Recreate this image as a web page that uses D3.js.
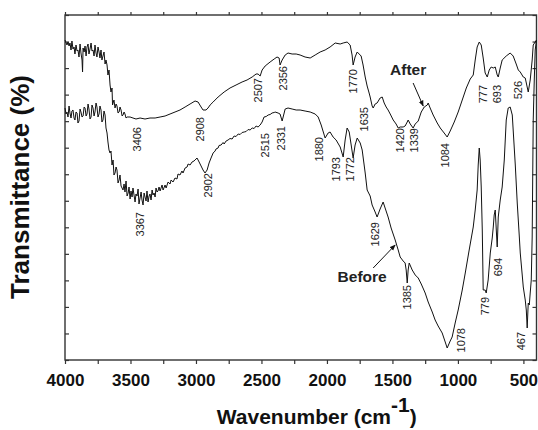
<!DOCTYPE html>
<html><head><meta charset="utf-8">
<script src="https://cdn.jsdelivr.net/npm/d3@7"></script>
<style>
body{margin:0;background:#fff;}
svg{display:block;font-family:Arial,"Liberation Sans",Helvetica,sans-serif;}
</style>
</head><body>
<svg id="chart" width="538" height="430"></svg>
<script>
// ---- data: [wavenumber (cm-1), transmittance (arb. %)] ----
const afterSpectrum = [
[4000,64.0],[3985,63.0],[3977,63.6],[3969,62.8],[3962,63.4],[3954,62.0],[3947,63.8],[3939,62.2],[3931,62.6],[3924,61.2],
[3916,63.0],[3908,61.8],[3901,62.0],[3893,60.6],[3885,63.2],[3878,61.4],[3870,60.0],[3866,57.6],[3862,62.4],[3854,61.6],
[3847,62.8],[3839,60.8],[3832,62.6],[3824,63.2],[3817,61.2],[3809,62.2],[3801,63.4],[3794,61.8],[3786,62.0],[3778,60.8],
[3771,63.0],[3763,61.4],[3756,60.6],[3748,62.6],[3740,61.6],[3733,60.4],[3725,62.0],[3718,60.0],[3710,60.8],[3702,61.6],
[3694,59.2],[3687,60.0],[3679,59.0],[3672,57.0],[3664,58.0],[3656,55.0],[3649,53.6],[3641,54.4],[3637,51.0],
[3633,51.4],[3626,52.0],[3618,50.4],[3610,51.2],[3603,50.8],[3595,49.4],[3587,49.6],[3580,50.6],[3572,50.0],[3564,48.8],[3557,49.0],
[3549,49.6],[3542,49.2],[3534,48.4],[3526,48.6],[3503,48.6],
[3481,48.4],[3458,48.2],[3427,48.4],[3389,48.2],[3351,48.4],[3312,48.4],[3274,48.6],[3236,48.8],[3198,49.2],[3160,49.6],
[3122,50.0],[3083,50.6],[3045,51.2],[3007,51.8],[2984,51.6],[2961,50.6],[2946,50.0],[2923,50.0],[2908,50.4],[2892,51.0],
[2869,51.6],[2831,52.6],[2785,53.6],[2740,54.4],[2694,55.0],[2648,55.6],[2610,56.0],[2571,56.6],[2541,57.2],[2526,57.2],
[2510,56.8],[2495,58.0],[2472,58.8],[2434,59.6],[2403,60.2],[2381,60.6],[2365,60.4],[2358,59.0],[2342,60.0],[2319,61.0],
[2297,61.4],[2266,61.2],[2235,61.2],[2205,61.0],[2167,60.6],[2128,60.4],[2090,61.0],[2052,61.6],[2014,62.0],[1976,62.6],
[1937,63.4],[1899,63.2],[1876,63.4],[1846,63.6],[1823,63.0],[1808,61.0],[1800,59.0],[1785,60.6],[1769,61.6],[1754,61.2],
[1739,60.8],[1724,59.0],[1708,56.6],[1693,54.8],[1678,53.4],[1670,52.6],[1655,50.8],[1647,50.4],[1632,51.2],[1617,51.4],
[1594,52.4],[1578,52.6],[1563,51.4],[1548,50.6],[1533,50.0],[1517,49.2],[1494,48.0],[1472,47.2],[1456,46.4],[1441,46.6],
[1418,46.6],[1403,46.8],[1387,47.6],[1380,48.0],[1364,47.2],[1342,46.4],[1326,47.2],[1303,47.8],[1280,49.6],[1257,50.6],
[1234,51.0],[1227,51.4],[1212,50.4],[1189,49.0],[1158,47.4],[1135,46.4],[1105,45.4],[1082,44.6],[1059,45.8],[1028,47.6],
[998,49.6],[967,52.0],[936,54.4],[906,56.2],[883,57.0],[868,60.0],[853,62.6],[837,63.6],[822,63.0],[807,60.4],
[792,57.4],[776,56.6],[761,58.0],[746,58.6],[730,58.4],[715,58.6],[700,57.0],[692,56.6],[677,58.4],[662,60.0],
[631,60.8],[601,61.4],[578,60.8],[555,59.2],[539,58.0],[524,57.6],[501,56.6],[486,56.4],[463,53.6],[448,56.0],
[433,60.0],[425,63.0],[410,63.6],[400,64.0]
];
const beforeSpectrum = [
[4000,50.4],[3992,49.2],[3985,49.6],[3977,48.6],[3969,50.8],[3962,49.4],[3954,48.4],[3947,49.8],[3939,50.0],[3931,48.4],
[3924,48.0],[3916,49.6],[3908,49.4],[3901,47.4],[3893,47.8],[3885,50.2],[3878,49.6],[3870,48.6],[3862,48.8],[3854,50.6],
[3847,50.4],[3839,48.8],[3832,49.2],[3824,51.2],[3817,50.2],[3809,48.2],[3801,48.6],[3794,51.0],[3786,50.4],[3778,48.8],
[3771,49.6],[3763,51.4],[3756,50.6],[3748,48.6],[3740,49.2],[3733,50.8],[3725,50.0],[3718,47.6],[3710,48.0],[3702,49.8],
[3694,49.0],[3687,46.4],[3679,45.4],[3672,43.6],[3664,42.0],[3656,41.4],[3649,41.8],[3641,39.0],[3633,40.0],[3626,37.0],[3618,37.4],
[3610,38.6],[3603,38.0],[3595,35.4],[3587,36.0],[3580,37.0],[3572,34.8],
[3557,34.0],[3549,35.2],[3542,33.6],[3534,35.8],[3526,32.8],[3518,33.4],[3511,34.6],[3503,32.2],[3496,33.8],[3488,32.6],
[3481,34.4],[3473,33.0],[3465,31.6],[3458,33.2],[3450,32.8],[3442,34.2],[3435,31.2],[3427,32.4],[3419,33.6],[3412,32.0],
[3404,31.0],[3396,33.4],[3389,32.6],[3381,31.8],[3374,33.8],[3366,31.6],[3358,32.8],[3351,33.2],[3343,32.0],[3335,34.0],
[3328,33.0],[3320,33.4],[3312,32.6],[3305,34.4],[3297,33.6],[3290,33.8],[3282,34.6],[3274,33.8],[3259,35.0],[3251,34.0],
[3236,35.0],[3228,34.4],[3213,35.6],[3198,35.2],[3190,36.0],[3175,35.6],[3160,36.4],[3145,36.2],[3137,37.2],[3122,37.0],
[3107,37.8],[3099,37.4],[3083,38.4],[3068,38.6],[3060,39.2],[3045,39.0],[3030,39.6],[3015,39.8],[3007,40.0],
[2992,40.4],[2976,39.6],[2961,38.8],[2946,38.0],[2931,37.4],[2915,38.0],[2900,39.4],
[2885,40.4],[2869,41.4],[2854,41.8],[2847,42.2],[2831,42.4],[2824,42.9],[2808,43.0],[2793,43.5],[2785,43.2],[2770,43.8],
[2755,44.0],[2740,44.3],[2724,44.2],[2709,44.8],[2694,44.7],[2678,45.2],[2663,45.1],[2648,45.5],[2632,45.6],[2617,45.7],
[2602,46.1],[2587,46.0],[2571,46.4],[2556,46.3],[2541,46.8],[2526,46.6],[2510,47.0],[2495,47.6],
[2480,48.6],[2464,48.7],[2449,49.0],[2434,49.1],[2419,49.4],[2403,49.5],[2396,49.6],
[2373,49.4],[2358,49.2],[2342,47.8],[2319,50.2],[2297,50.4],[2266,50.2],[2235,50.0],[2205,50.0],
[2167,49.8],[2128,49.6],
[2090,49.2],[2067,48.6],[2044,47.0],[2014,44.4],[1991,45.4],[1976,45.6],[1953,44.6],[1930,44.0],[1899,42.6],[1876,40.6],
[1861,44.0],[1846,46.4],[1830,45.6],[1815,43.0],[1800,40.4],[1785,43.0],[1769,44.4],[1746,43.4],[1731,42.0],[1708,37.4],
[1693,34.0],[1670,32.8],[1655,31.0],[1632,29.6],[1617,28.6],[1594,30.2],[1571,31.6],[1556,30.4],[1533,28.6],[1510,26.4],
[1479,24.0],[1456,22.0],[1441,20.6],[1418,19.8],[1403,19.4],[1395,18.0],[1387,15.4],[1380,18.0],[1372,19.4],[1349,18.0],
[1326,17.0],[1303,16.4],[1280,15.2],[1250,13.4],[1227,11.6],[1196,9.6],[1174,8.0],[1151,6.8],[1120,5.4],[1097,3.6],
[1082,2.4],[1059,3.8],[1044,4.6],[1021,7.4],[998,10.0],[967,14.0],[944,17.4],[914,22.0],[883,26.6],[868,30.0],
[853,34.0],[845,39.0],[837,42.4],[830,40.0],[822,34.6],[814,26.0],[807,14.0],[792,14.0],[784,13.4],[769,16.0],
[753,21.4],[738,24.4],[730,26.6],[723,29.0],[715,30.0],[707,26.0],[700,22.6],[692,28.6],[677,32.0],[662,34.6],
[646,40.0],[631,48.0],[616,50.4],[601,50.6],[585,49.0],[578,46.0],[562,39.0],[547,31.4],[532,25.0],[524,21.4],
[509,17.0],[501,14.6],[486,12.0],[478,10.0],[471,6.4],[463,11.4],[455,11.0],[448,13.4],[440,16.0],[433,24.6],
[425,48.0],[417,56.0],[410,62.0],[400,64.0]
];
// peak labels: [text, wavenumber position, transmittance position (top of label)]
const afterPeakLabels = [
["3406",3450,46.6],["2908",2969,48.6],["2507",2526,56.4],["2356",2335,58.8],["1770",1800,58.2],["1635",1716,50.6],
["1420",1441,46.4],["1339",1334,46.4],["1084",1097,43.4],["777",807,55.0],["693",700,55.0],["526",539,55.8]
];
const beforePeakLabels = [
["3367",3427,29.6],["2902",2908,37.4],["2515",2472,45.4],["2331",2350,46.8],["1880",2060,44.6],["1793",1930,40.6],
["1772",1823,40.6],["1629",1632,27.6],["1385",1387,15.0],["1078",975,6.4],["779",792,12.6],["694",692,20.4],["467",517,5.6]
];
// series names with label anchor and arrow [from, to]
const seriesNames = ["After","Before"];
const seriesNameAnchors = [[1380,57.0],[1731,15.6]];
const seriesArrows = [[[1342,55.4],[1265,50.8]],[[1647,18.4],[1479,23.0]]];

const xMajorTicks = [4000,3500,3000,2500,2000,1500,1000,500];
const xMinorTicks = [3750,3250,2750,2250,1750,1250,750];
const yTickCount = 13;

// ---- drawing ----
const svg = d3.select("#chart");
const L = 65, R = 536.5, T = 15, B = 360;
const x = d3.scaleLinear().domain([4000,400]).range([L,R]);
const y = d3.scaleLinear().domain([0,69]).range([B,T]);
const yTicks = d3.range(yTickCount+1).map(i => i*69/yTickCount);

const axisColor = "#333";
function styleAxis(g){
  g.select(".domain").remove();
  g.selectAll(".tick line").attr("stroke",axisColor).attr("stroke-width",1.2);
  g.selectAll(".tick text").attr("fill","#111").style("font-size","17px").style("font-weight","bold")
   .style("font-family","Arial, 'Liberation Sans', sans-serif");
}
svg.append("g").attr("transform",`translate(0,${B})`)
  .call(d3.axisBottom(x).tickValues(xMajorTicks).tickSize(4).tickPadding(10).tickFormat(d3.format("d"))).call(styleAxis);
svg.append("g").attr("transform",`translate(0,${B})`)
  .call(d3.axisBottom(x).tickValues(xMinorTicks).tickSize(4).tickFormat("")).call(styleAxis);
svg.append("g").attr("transform",`translate(0,${T})`)
  .call(d3.axisTop(x).tickValues(xMajorTicks.concat(xMinorTicks)).tickSize(3).tickFormat("")).call(styleAxis);
svg.append("g").attr("transform",`translate(${L},0)`)
  .call(d3.axisLeft(y).tickValues(yTicks).tickSize(-4).tickFormat("")).call(styleAxis);
svg.append("g").attr("transform",`translate(${R},0)`)
  .call(d3.axisRight(y).tickValues(yTicks).tickSize(-4).tickFormat("")).call(styleAxis);

svg.append("rect").attr("x",L).attr("y",T).attr("width",R-L).attr("height",B-T)
  .attr("fill","none").attr("stroke",axisColor).attr("stroke-width",1.4);

const line = d3.line().x(d=>x(d[0])).y(d=>y(d[1]));
[afterSpectrum, beforeSpectrum].forEach(s=>{
  svg.append("path").datum(s).attr("d",line).attr("fill","none")
    .attr("stroke","#111").attr("stroke-width",1).attr("stroke-linejoin","round");
});

// peak labels
afterPeakLabels.concat(beforePeakLabels).forEach(([t,w,v])=>{
  svg.append("text").attr("transform",`translate(${x(w)},${y(v)}) rotate(-90)`)
    .attr("text-anchor","end").attr("dy","0.35em")
    .style("font-size","11px").attr("fill","#222").text(t);
});

// series name labels and arrows
svg.append("defs").append("marker").attr("id","ah").attr("viewBox","0 0 10 10")
  .attr("refX",9).attr("refY",5).attr("markerWidth",6).attr("markerHeight",6).attr("orient","auto")
  .append("path").attr("d","M0,1 L10,5 L0,9 Z").attr("fill","#111");
seriesNames.forEach((n,i)=>{
  const [w,v] = seriesNameAnchors[i];
  svg.append("text").attr("x",x(w)).attr("y",y(v)).attr("text-anchor","middle")
    .style("font-size","15.5px").style("font-weight","bold").attr("fill","#222").text(n);
  const [a,b] = seriesArrows[i];
  svg.append("line").attr("x1",x(a[0])).attr("y1",y(a[1])).attr("x2",x(b[0])).attr("y2",y(b[1]))
    .attr("stroke","#111").attr("stroke-width",1).attr("marker-end","url(#ah)");
});

// axis titles
const xt = svg.append("text").attr("x",(L+R)/2+16).attr("y",424).attr("text-anchor","middle")
  .style("font-size","21px").style("font-weight","bold").attr("fill","#111");
xt.append("tspan").text("Wavenumber (cm");
xt.append("tspan").attr("dy",-12).text("-1");
xt.append("tspan").attr("dy",12).text(")");

svg.append("text").attr("transform",`translate(29,187) rotate(-90)`).attr("text-anchor","middle")
  .style("font-size","26px").style("font-weight","bold").attr("fill","#111").text("Transmittance (%)");
</script>
</body></html>
